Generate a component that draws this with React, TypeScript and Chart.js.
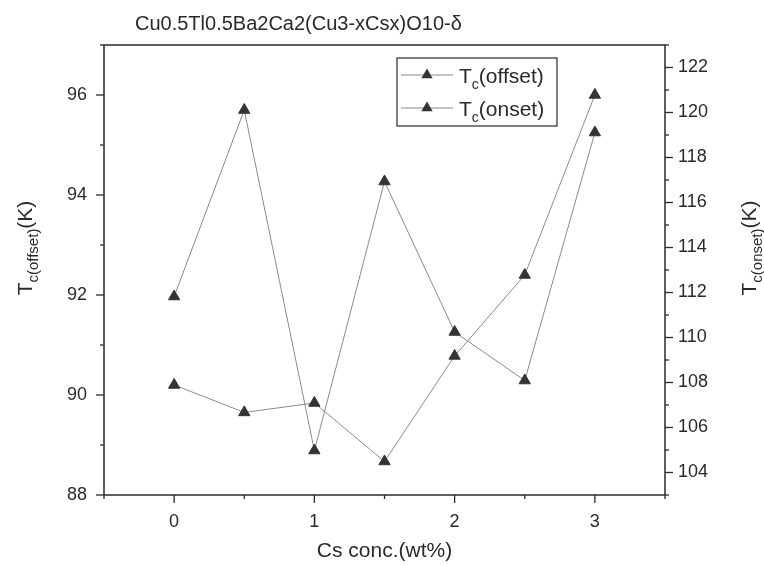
import React, { useEffect, useRef } from "react";
import { Chart, registerables } from "chart.js";

Chart.register(...registerables);

const chartTitle = "Cu0.5Tl0.5Ba2Ca2(Cu3-xCsx)O10-δ";
const xAxisTitle = "Cs conc.(wt%)";
const csConc = [0, 0.5, 1, 1.5, 2, 2.5, 3];
const tcOffset = [91.97, 95.7, 88.89, 94.27, 91.26, 90.29, 95.25];
const tcOnset = [107.89, 106.67, 107.09, 104.49, 109.18, 112.78, 120.78];
const seriesNames = [
  { main: "T", sub: "c", rest: "(offset)" },
  { main: "T", sub: "c", rest: "(onset)" },
];
const leftTitle = { main: "T", sub: "c(offset)", rest: "(K)" };
const rightTitle = { main: "T", sub: "c(onset)", rest: "(K)" };

const FONT = "'Liberation Sans', Arial, sans-serif";
const INK = "#2a2a2a";
const LINE = "#8a8a8a";

function drawSubText(ctx: CanvasRenderingContext2D, parts: { main: string; sub: string; rest: string }, x: number, y: number, size: number, subSize: number, align: "left" | "center") {
  ctx.font = `${size}px ${FONT}`;
  const w1 = ctx.measureText(parts.main).width;
  const w3 = ctx.measureText(parts.rest).width;
  ctx.font = `${subSize}px ${FONT}`;
  const w2 = ctx.measureText(parts.sub).width;
  const total = w1 + w2 + w3;
  let sx = align === "center" ? x - total / 2 : x;
  ctx.textAlign = "left";
  ctx.textBaseline = "alphabetic";
  ctx.font = `${size}px ${FONT}`;
  ctx.fillText(parts.main, sx, y);
  sx += w1;
  ctx.font = `${subSize}px ${FONT}`;
  ctx.fillText(parts.sub, sx, y + size * 0.28);
  sx += w2;
  ctx.font = `${size}px ${FONT}`;
  ctx.fillText(parts.rest, sx, y);
}

const decorPlugin = {
  id: "decor",
  afterDraw(chart: any) {
    const { ctx, chartArea: a, scales } = chart;
    ctx.save();
    // frame
    ctx.strokeStyle = INK;
    ctx.lineWidth = 1.5;
    ctx.strokeRect(a.left, a.top, a.right - a.left, a.bottom - a.top);
    // ticks
    ctx.lineWidth = 1.3;
    const major = 8;
    const minor = 4;
    for (const t of scales.x.ticks) {
      const px = scales.x.getPixelForValue(t.value);
      const len = t.label !== "" ? major : minor;
      ctx.beginPath();
      ctx.moveTo(px, a.bottom);
      ctx.lineTo(px, a.bottom + len);
      ctx.stroke();
    }
    for (const t of scales.y.ticks) {
      const py = scales.y.getPixelForValue(t.value);
      const len = t.label !== "" ? major : minor;
      ctx.beginPath();
      ctx.moveTo(a.left - len, py);
      ctx.lineTo(a.left, py);
      ctx.stroke();
    }
    for (const t of scales.y1.ticks) {
      const py = scales.y1.getPixelForValue(t.value);
      const len = t.label !== "" ? major : minor;
      ctx.beginPath();
      ctx.moveTo(a.right, py);
      ctx.lineTo(a.right + len, py);
      ctx.stroke();
    }
    ctx.fillStyle = INK;
    // main title
    ctx.font = `20px ${FONT}`;
    ctx.textAlign = "left";
    ctx.textBaseline = "alphabetic";
    ctx.fillText(chartTitle, 135, 30);
    // x axis title
    ctx.font = `21px ${FONT}`;
    ctx.textAlign = "center";
    ctx.fillText(xAxisTitle, (a.left + a.right) / 2, 557);
    // y titles
    ctx.save();
    ctx.translate(32, 248);
    ctx.rotate(-Math.PI / 2);
    drawSubText(ctx, leftTitle, 0, 0, 21, 15, "center");
    ctx.restore();
    ctx.save();
    ctx.translate(756, 248);
    ctx.rotate(-Math.PI / 2);
    drawSubText(ctx, rightTitle, 0, 0, 21, 15, "center");
    ctx.restore();
    // legend
    const bx = 397, by = 58, bw = 160, bh = 68;
    ctx.fillStyle = "#ffffff";
    ctx.fillRect(bx, by, bw, bh);
    ctx.strokeStyle = INK;
    ctx.lineWidth = 1.2;
    ctx.strokeRect(bx, by, bw, bh);
    const rows = [75, 108];
    chart.data.datasets.forEach((ds: any, i: number) => {
      const ry = rows[i];
      ctx.strokeStyle = LINE;
      ctx.lineWidth = 1;
      ctx.beginPath();
      ctx.moveTo(401, ry);
      ctx.lineTo(453, ry);
      ctx.stroke();
      // triangle marker
      const r = 6.5;
      ctx.fillStyle = "#333333";
      ctx.beginPath();
      ctx.moveTo(427, ry - r);
      ctx.lineTo(427 + r * Math.sin((2 * Math.PI) / 3), ry - r * Math.cos((2 * Math.PI) / 3));
      ctx.lineTo(427 - r * Math.sin((2 * Math.PI) / 3), ry - r * Math.cos((2 * Math.PI) / 3));
      ctx.closePath();
      ctx.fill();
      ctx.fillStyle = INK;
      drawSubText(ctx, seriesNames[i], 459, ry + 8, 21, 14, "left");
    });
    ctx.restore();
  },
};

export default function App() {
  const ref = useRef<HTMLCanvasElement | null>(null);
  useEffect(() => {
    document.body.style.margin = "0";
    const canvas = ref.current;
    if (!canvas) return;
    const tickFont = { family: FONT, size: 18 };
    const chart = new Chart(canvas, {
      type: "line",
      data: {
        datasets: [
          {
            label: "Tc(offset)",
            data: csConc.map((x, i) => ({ x, y: tcOffset[i] })),
            yAxisID: "y",
            borderColor: LINE,
            borderWidth: 1,
            pointStyle: "triangle",
            pointRadius: 6.5,
            pointBackgroundColor: "#333333",
            pointBorderColor: "#333333",
            pointBorderWidth: 1,
            tension: 0,
          },
          {
            label: "Tc(onset)",
            data: csConc.map((x, i) => ({ x, y: tcOnset[i] })),
            yAxisID: "y1",
            borderColor: LINE,
            borderWidth: 1,
            pointStyle: "triangle",
            pointRadius: 6.5,
            pointBackgroundColor: "#333333",
            pointBorderColor: "#333333",
            pointBorderWidth: 1,
            tension: 0,
          },
        ],
      },
      options: {
        animation: false,
        responsive: false,
        devicePixelRatio: 1,
        layout: { padding: { top: 45, left: 0, right: 0, bottom: 0 } },
        plugins: {
          legend: { display: false },
          tooltip: { enabled: false },
          title: { display: false },
        },
        scales: {
          x: {
            type: "linear",
            min: -0.5,
            max: 3.5,
            grid: { display: false, drawTicks: false },
            border: { display: false },
            ticks: {
              stepSize: 0.5,
              autoSkip: false,
              maxRotation: 0,
              padding: 16,
              color: INK,
              font: tickFont,
              callback: (v: any) => (Number.isInteger(Number(v)) ? String(v) : ""),
            },
            afterFit: (s: any) => {
              s.height = 71;
            },
          },
          y: {
            type: "linear",
            position: "left",
            min: 88,
            max: 97,
            grid: { display: false, drawTicks: false },
            border: { display: false },
            ticks: {
              stepSize: 1,
              autoSkip: false,
              padding: 17,
              color: INK,
              font: tickFont,
              callback: (v: any) => (Number(v) % 2 === 0 ? String(v) : ""),
            },
            afterFit: (s: any) => {
              s.width = 104;
            },
          },
          y1: {
            type: "linear",
            position: "right",
            min: 103,
            max: 123,
            grid: { display: false, drawTicks: false },
            border: { display: false },
            ticks: {
              stepSize: 1,
              autoSkip: false,
              padding: 13,
              color: INK,
              font: tickFont,
              callback: (v: any) => (Number(v) % 2 === 0 ? String(v) : ""),
            },
            afterFit: (s: any) => {
              s.width = 99;
            },
          },
        },
      },
      plugins: [decorPlugin],
    });
    return () => chart.destroy();
  }, []);
  return (
    <div style={{ position: "fixed", left: 0, top: 0, width: 764, height: 566, background: "#ffffff" }}>
      <canvas ref={ref} width={764} height={566} />
    </div>
  );
}
